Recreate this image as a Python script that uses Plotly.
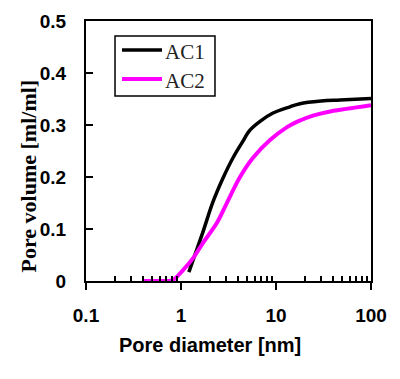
import plotly.graph_objects as go

# AC1 (black)
ac1_x = [1.21, 1.34, 1.70, 2.17, 2.77, 3.53, 4.39, 5.32, 6.79, 9.3, 14.0, 17.9, 30.0, 47.0, 100]
ac1_y = [0.017, 0.040, 0.094, 0.152, 0.198, 0.237, 0.266, 0.290, 0.307, 0.323, 0.335, 0.341, 0.346, 0.348, 0.351]

# AC2 (magenta)
ac2_x = [0.40, 0.60, 0.82, 1.05, 1.34, 1.70, 2.39, 3.0, 4.18, 5.73, 8.65, 13.06, 17.0, 24.5, 35.0, 55.0, 100]
ac2_y = [0.0, 0.0, 0.002, 0.021, 0.044, 0.073, 0.112, 0.148, 0.200, 0.237, 0.271, 0.296, 0.307, 0.318, 0.325, 0.331, 0.338]

series_names = ["AC1", "AC2"]
series_colors = ["black", "#ff00ff"]

x_ticks = [0.1, 1, 10, 100]
x_tick_text = ["0.1", "1", "10", "100"]
y_ticks = [0, 0.1, 0.2, 0.3, 0.4, 0.5]
y_tick_text = ["0", "0.1", "0.2", "0.3", "0.4", "0.5"]
minor_x = [m * 10 ** d for d in (-1, 0, 1) for m in range(2, 10)]

fig = go.Figure()
fig.add_trace(go.Scatter(x=ac1_x, y=ac1_y, mode="lines", name=series_names[0],
                         line=dict(color=series_colors[0], width=3.5, shape="spline", smoothing=1.0),
                         showlegend=False))
fig.add_trace(go.Scatter(x=ac2_x, y=ac2_y, mode="lines", name=series_names[1],
                         line=dict(color=series_colors[1], width=4, shape="spline", smoothing=1.0),
                         showlegend=False))

tickfont = dict(family="Liberation Sans", size=19, color="black", weight="bold")

# hand-drawn legend box (layout, in paper coordinates)
shapes = [dict(type="rect", xref="paper", yref="paper", x0=0.1018, x1=0.4526,
               y0=0.7115, y1=0.9423, line=dict(color="black", width=1.5),
               fillcolor="white", layer="above")]
annotations = []
leg_rows = [0.8885, 0.7769]
for name, color, yy in zip(series_names, series_colors, leg_rows):
    shapes.append(dict(type="line", xref="paper", yref="paper", x0=0.1263, x1=0.2667,
                       y0=yy, y1=yy, line=dict(color=color, width=3.5 if color == "black" else 4),
                       layer="above"))
    annotations.append(dict(text=name, xref="paper", yref="paper", x=0.2702, y=yy - 0.006,
                            xanchor="left", yanchor="middle", showarrow=False,
                            font=dict(family="Liberation Serif", size=21, color="#222")))

annotations += [
    dict(text="Pore diameter [nm]", xref="paper", yref="paper",
         x=0.435, y=-0.246, xanchor="center", yanchor="middle", showarrow=False,
         font=dict(family="Liberation Sans", size=20, color="black", weight="bold")),
    dict(text="Pore volume [ml/ml]", xref="paper", yref="paper",
         x=-0.2035, y=0.402, xanchor="center", yanchor="middle", showarrow=False,
         textangle=-90,
         font=dict(family="Liberation Serif", size=22, color="black", weight="bold")),
]

fig.update_layout(
    width=392, height=371,
    margin=dict(l=78, r=29, t=13, b=98),
    paper_bgcolor="white", plot_bgcolor="white",
    showlegend=False,
    xaxis=dict(type="log", range=[-1, 2], tickvals=x_ticks, ticktext=x_tick_text,
               ticks="outside", ticklen=7, tickwidth=2, tickcolor="black",
               showline=True, linecolor="black", linewidth=2, mirror=True,
               showgrid=False, zeroline=False, tickfont=tickfont,
               ticklabelstandoff=9, automargin=False,
               minor=dict(tickvals=minor_x, ticks="inside", ticklen=5,
                          tickwidth=1.5, tickcolor="black", showgrid=False)),
    yaxis=dict(range=[0, 0.5], tickvals=y_ticks, ticktext=y_tick_text,
               ticks="inside", ticklen=7, tickwidth=2, tickcolor="black",
               showline=True, linecolor="black", linewidth=2, mirror=True,
               showgrid=False, zeroline=False, tickfont=tickfont,
               ticklabelstandoff=14, automargin=False),
    shapes=shapes,
    annotations=annotations,
)

fig.write_html("out.html")
